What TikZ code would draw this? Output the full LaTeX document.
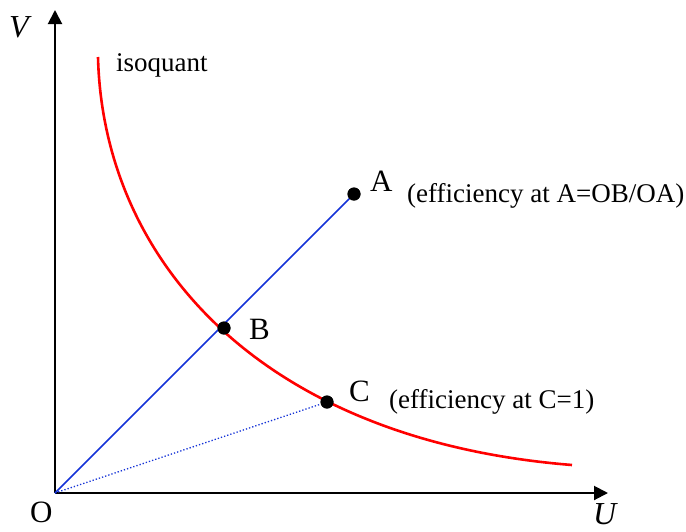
\documentclass[tikz,border=0pt]{standalone}
\usepackage{fontspec}
\setmainfont{Liberation Serif}
\usetikzlibrary{arrows.meta}

\tikzset{
  axis/.style={black, line width=2pt, -{Triangle[length=14pt,width=14pt]}},
  dot/.style={circle, fill=black, inner sep=0pt, minimum size=13pt},
  lbl/.style={inner sep=0pt, anchor=base west, font=\fontsize{31}{37}\selectfont},
  note/.style={inner sep=0pt, anchor=base west, font=\fontsize{27}{32}\selectfont},
  axlbl/.style={inner sep=0pt, anchor=base west, font=\fontsize{32}{38}\selectfont\itshape}
}

\begin{document}
\begin{tikzpicture}[x=1pt, y=-1pt]
    \useasboundingbox (0,0) rectangle (686,531);
    \definecolor{rayblue}{RGB}{20,50,215}

    % axes
    \coordinate (O) at (55,493);
    \coordinate (Vtip) at (55,10);
    \coordinate (Utip) at (608,493);
    \draw[axis] (O) -- (Vtip);
    \draw[axis] (O) -- (Utip);
    \node[axlbl] (Vlab) at (9,37) {V};
    \node[axlbl] (Ulab) at (593,524) {U};
    \node[lbl] (Olab) at (30,522) {O};

    % isoquant
    \draw[red, line width=2.6pt] (98,57) .. controls (103,260) and (260,440) .. (572,465);
    \node[note] (iso) at (116,71) {isoquant};

    % points on the ray and off it
    \node[dot] (A) at (354,194) {};
    \node[dot] (B) at (224,328) {};
    \node[dot] (C) at (327,402) {};
    \draw[rayblue, line width=1.5pt] (O) -- (A);
    \draw[rayblue, line width=1.3pt, dotted] (O) -- (C);
    \node[dot] at (B) {};
    \node[dot] at (A) {};
    \node[dot] at (C) {};

    \node[lbl] (Alab) at (370,191) {A};
    \node[lbl] (Blab) at (249,339) {B};
    \node[lbl] (Clab) at (349,401) {C};
    \node[note] (effA) at (407,202) {(efficiency at A=OB/OA)};
    \node[note] (effC) at (389,408) {(efficiency at C=1)};
\end{tikzpicture}
\end{document}
